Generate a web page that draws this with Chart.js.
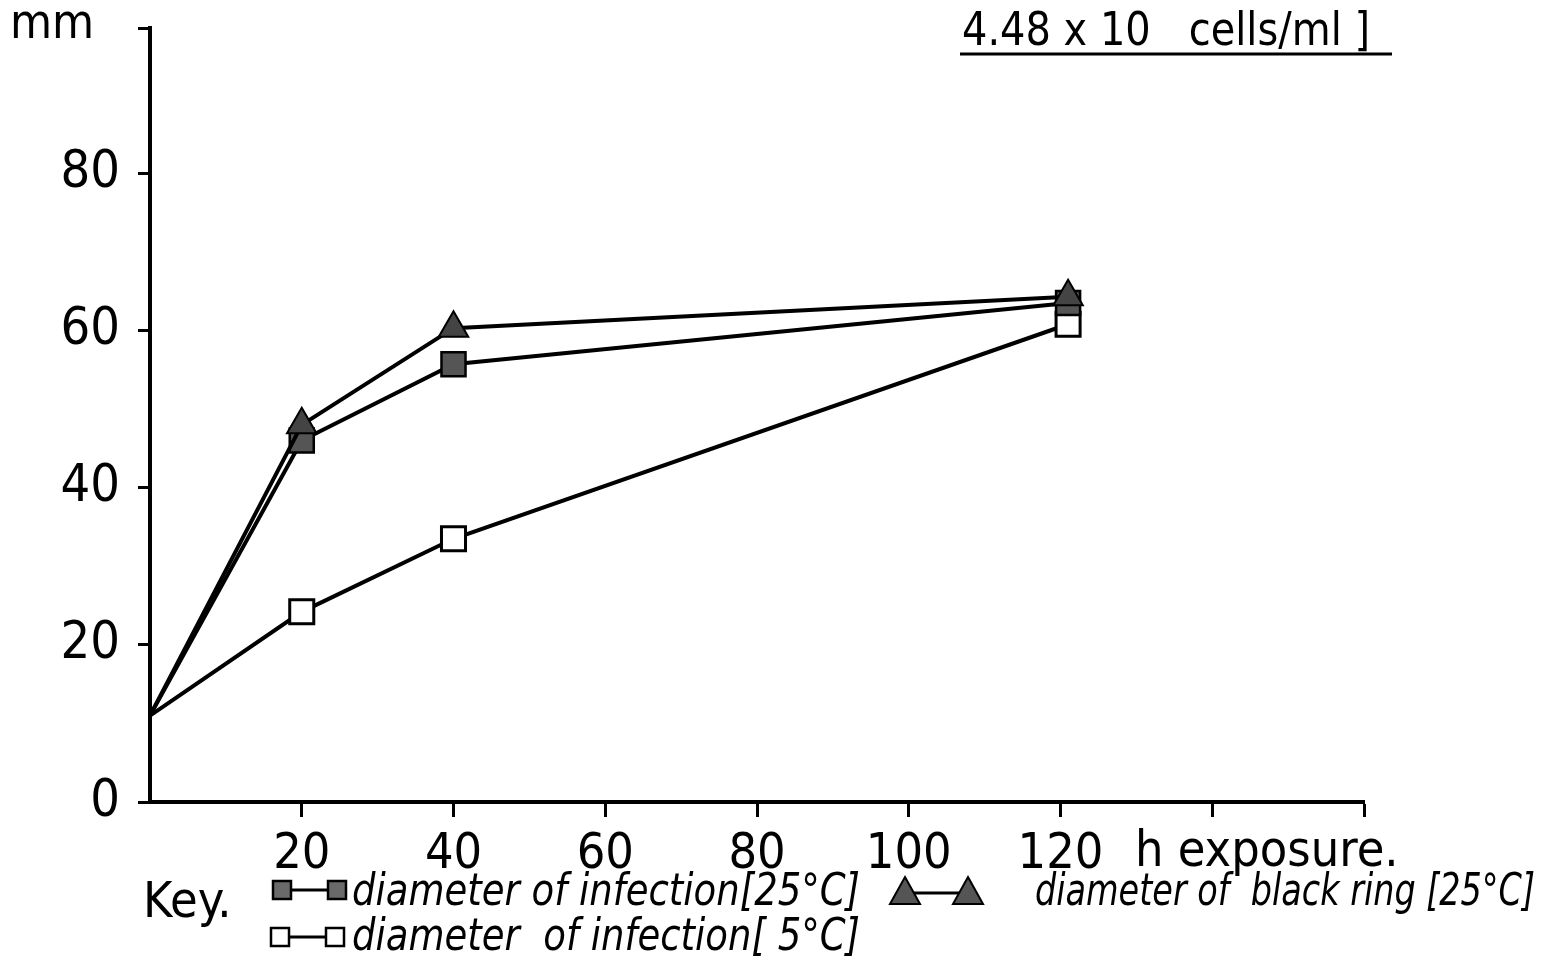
<!DOCTYPE html>
<html><head><meta charset="utf-8">
<script src="https://cdn.jsdelivr.net/npm/chart.js@4.4.0/dist/chart.umd.min.js"></script>
<style>html,body{margin:0;padding:0;background:#fff;overflow:hidden}#wrap{width:1557px;height:960px}</style>
</head><body><div id="wrap"><canvas id="c" width="1557" height="960"></canvas></div>
<script>
// ---- data ----
const hours = [0, 20, 40, 121];
const blackRing25 = [11, 48, 60.3, 64.3];
const infection25 = [11, 46, 55.7, 63.5];
const infection5 = [11, 24.2, 33.5, 60.8];
const xTickValues = [20, 40, 60, 80, 100, 120, 140, 160];
const xTickLabels = ['20', '40', '60', '80', '100', '120', '', ''];
const yTickValues = [0, 20, 40, 60, 80];
const yTickLabels = ['0', '20', '40', '60', '80'];
const yAxisTop = 98.5;
const xAxisEnd = 160;
const titleText = '4.48 x 10   cells/ml ]';
const yUnit = 'mm';
const xUnit = 'h exposure.';
const legendTexts = ['diameter of infection[25°C]', 'diameter of  black ring [25°C]', 'diameter  of infection[ 5°C]'];

const FONT = "'DejaVu Sans Condensed', 'DejaVu Sans', sans-serif";

function pts(ys){ return hours.map((h,i)=>({x:h, y:ys[i]})); }
const radii = hours.map(h => h === 0 ? 0 : 17);

const extras = {
  id: 'extras',
  afterDraw(chart){
    const ctx = chart.ctx;
    ctx.save();
    ctx.fillStyle = '#000';
    ctx.strokeStyle = '#000';
    ctx.textBaseline = 'alphabetic';
    ctx.textAlign = 'left';
    // y unit
    ctx.font = `48px ${FONT}`;
    ctx.fillText(yUnit, 10, 38, 90);
    // title + underline
    ctx.font = `46px ${FONT}`;
    ctx.fillText(titleText, 962, 45, 408);
    ctx.lineWidth = 3;
    ctx.beginPath(); ctx.moveTo(960, 54); ctx.lineTo(1392, 54); ctx.stroke();
    // x unit
    ctx.font = `50px ${FONT}`;
    ctx.fillText(xUnit, 1135, 866, 268);
    // Key
    ctx.font = `50px ${FONT}`;
    ctx.fillText('Key.', 143, 917, 95);
    // legend markers
    function sq(x, y, filled){
      ctx.lineWidth = 2.5;
      ctx.fillStyle = filled ? '#6a6a6a' : '#fff';
      ctx.fillRect(x-9, y-9, 18, 18);
      ctx.strokeStyle = '#000';
      ctx.strokeRect(x-9, y-9, 18, 18);
    }
    function tri(x, y){
      ctx.fillStyle = '#555';
      ctx.beginPath(); ctx.moveTo(x, y-16); ctx.lineTo(x+15, y+11); ctx.lineTo(x-15, y+11); ctx.closePath();
      ctx.fill(); ctx.lineWidth = 2; ctx.stroke();
    }
    ctx.lineWidth = 3;
    ctx.beginPath(); ctx.moveTo(282, 890); ctx.lineTo(337, 890); ctx.stroke();
    sq(282, 890, true); sq(337, 890, true);
    ctx.lineWidth = 3;
    ctx.beginPath(); ctx.moveTo(280, 937); ctx.lineTo(335, 937); ctx.stroke();
    sq(280, 937, false); sq(335, 937, false);
    ctx.lineWidth = 3;
    ctx.beginPath(); ctx.moveTo(905, 893); ctx.lineTo(968, 893); ctx.stroke();
    tri(905, 893); tri(968, 893);
    // legend text
    ctx.fillStyle = '#000';
    ctx.font = `italic 44px ${FONT}`;
    ctx.fillText(legendTexts[0], 352, 905, 508);
    ctx.fillText(legendTexts[1], 1035, 905, 500);
    ctx.fillText(legendTexts[2], 352, 950, 508);
    ctx.restore();
  }
};

new Chart(document.getElementById('c'), {
  type: 'line',
  data: {
    datasets: [
      { label: legendTexts[1], data: pts(blackRing25), borderColor: '#000', borderWidth: 4,
        pointStyle: 'triangle', pointRadius: radii, pointBackgroundColor: '#444', pointBorderColor: '#000', pointBorderWidth: 2 },
      { label: legendTexts[0], data: pts(infection25), borderColor: '#000', borderWidth: 4,
        pointStyle: 'rect', pointRadius: radii, pointBackgroundColor: '#555', pointBorderColor: '#000', pointBorderWidth: 2.5 },
      { label: legendTexts[2], data: pts(infection5), borderColor: '#000', borderWidth: 4,
        pointStyle: 'rect', pointRadius: radii, pointBackgroundColor: '#fff', pointBorderColor: '#000', pointBorderWidth: 3 }
    ]
  },
  options: {
    responsive: false, animation: false, devicePixelRatio: 1,
    layout: { padding: { top: 28, right: 193, left: 0, bottom: 0 } },
    plugins: { legend: { display: false }, tooltip: { enabled: false } },
    elements: { line: { tension: 0 } },
    scales: {
      x: {
        type: 'linear', min: 0, max: xAxisEnd,
        afterFit(s){ s.height = 158; s.paddingLeft = 0; s.paddingRight = 0; },
        afterBuildTicks(s){ s.ticks = xTickValues.map(v => ({ value: v })); },
        ticks: { color: '#000', font: { family: FONT, size: 50 }, padding: 8, maxRotation: 0, autoSkip: false,
          callback(v){ const i = xTickValues.indexOf(v); return i >= 0 ? xTickLabels[i] : ''; } },
        grid: { display: true, drawOnChartArea: false, drawTicks: true, tickLength: 15, tickWidth: 3, tickColor: '#000' },
        border: { display: true, color: '#000', width: 4 }
      },
      y: {
        type: 'linear', min: 0, max: yAxisTop,
        afterFit(s){ s.width = 150; s.paddingTop = 0; s.paddingBottom = 0; },
        afterBuildTicks(s){ s.ticks = yTickValues.concat([yAxisTop]).map(v => ({ value: v })); },
        ticks: { color: '#000', font: { family: FONT, size: 52 }, padding: 18, autoSkip: false,
          callback(v){ const i = yTickValues.indexOf(v); return i >= 0 ? yTickLabels[i] : ''; } },
        grid: { display: true, drawOnChartArea: false, drawTicks: true, tickLength: 12, tickWidth: 3, tickColor: '#000' },
        border: { display: true, color: '#000', width: 4 }
      }
    }
  },
  plugins: [extras]
});
</script></body></html>
